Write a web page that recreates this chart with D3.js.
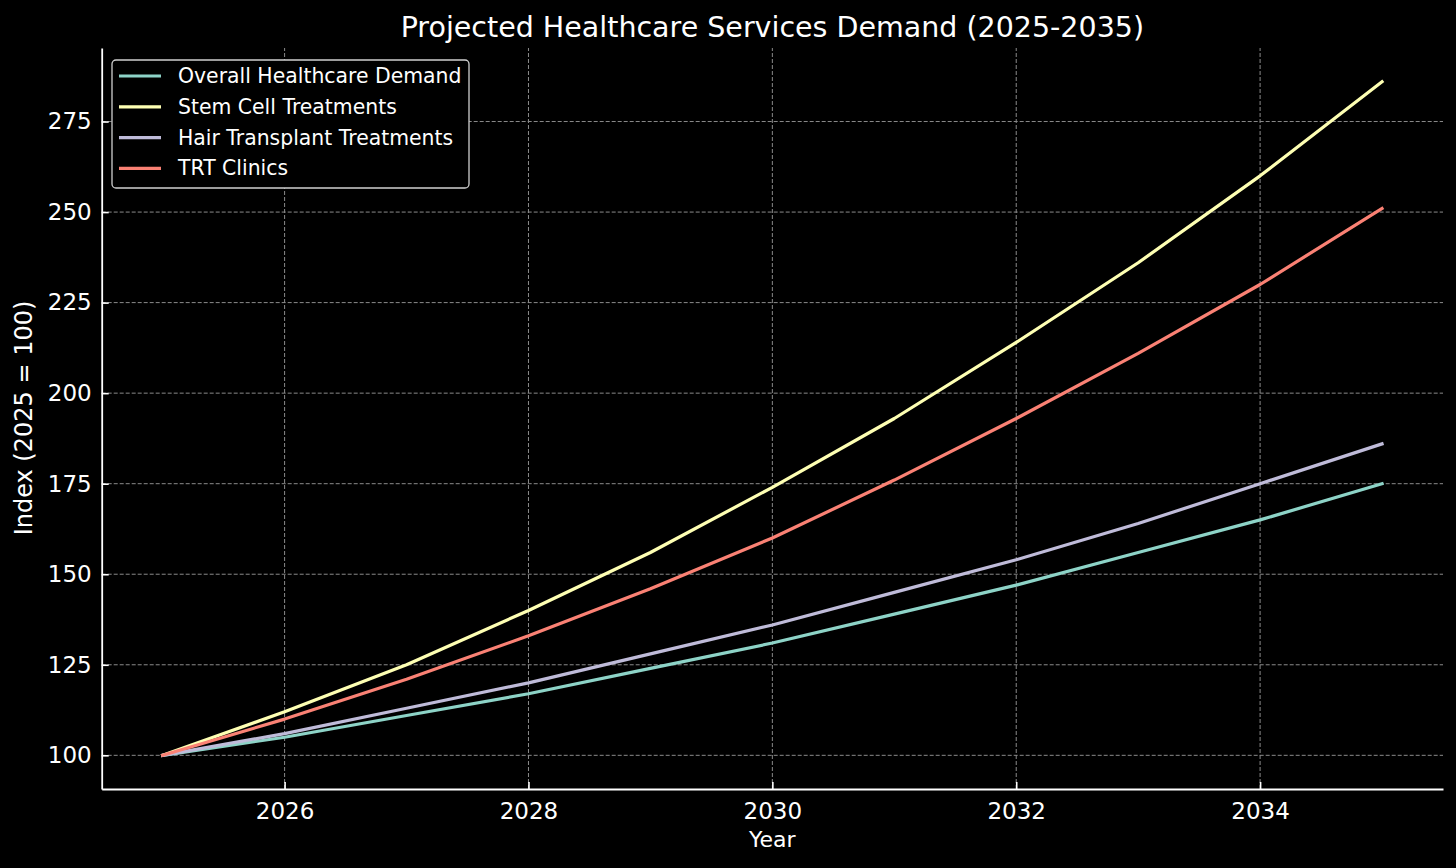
<!DOCTYPE html>
<html>
<head>
<meta charset="utf-8">
<script src="https://cdn.jsdelivr.net/npm/d3@7"></script>
<style>
  html, body { margin: 0; padding: 0; background: #000; }
  svg { display: block; font-family: "DejaVu Sans", sans-serif; }
</style>
</head>
<body>
<svg id="chart" width="1456" height="868"></svg>
<script>
const years = [2025, 2026, 2027, 2028, 2029, 2030, 2031, 2032, 2033, 2034, 2035];
const overallDemand = [100, 105, 111, 117, 124, 131, 139, 147, 156, 165, 175];
const stemCell      = [100, 112, 125, 140, 156, 174, 193, 214, 236, 260, 286];
const hairTransplant= [100, 106, 113, 120, 128, 136, 145, 154, 164, 175, 186];
const trtClinics    = [100, 110, 121, 133, 146, 160, 176, 193, 211, 230, 251];
const seriesNames = ["Overall Healthcare Demand", "Stem Cell Treatments", "Hair Transplant Treatments", "TRT Clinics"];
const seriesColors = ["#8dd3c7", "#feffb3", "#bfbbd9", "#fa8174"];
const xTicks = [2026, 2028, 2030, 2032, 2034];
const yTicks = [100, 125, 150, 175, 200, 225, 250, 275];

const allSeries = [overallDemand, stemCell, hairTransplant, trtClinics];

const svg = d3.select("#chart");
const W = 1456, H = 868;
const m = { left: 101.7, right: 1443, top: 48, bottom: 789 };

svg.append("rect").attr("width", W).attr("height", H).attr("fill", "#000");

const xMin = d3.min(years), xMax = d3.max(years);
const xPad = (xMax - xMin) * 0.05;
const allVals = allSeries.flat();
const yMin = d3.min(allVals), yMax = d3.max(allVals);
const yPad = (yMax - yMin) * 0.05;

const x = d3.scaleLinear().domain([xMin - xPad, xMax + xPad]).range([m.left, m.right]);
const y = d3.scaleLinear().domain([yMin - yPad, yMax + yPad]).range([m.bottom, m.top]);

// grid
const grid = svg.append("g");
grid.selectAll(".vg").data(xTicks).enter().append("line")
  .attr("x1", d => x(d)).attr("x2", d => x(d))
  .attr("y1", m.bottom).attr("y2", m.top)
  .attr("stroke", "#8a8a8a").attr("stroke-width", 1).attr("stroke-dasharray", "4,2");
grid.selectAll(".hg").data(yTicks).enter().append("line")
  .attr("y1", d => y(d)).attr("y2", d => y(d))
  .attr("x1", m.left).attr("x2", m.right)
  .attr("stroke", "#8a8a8a").attr("stroke-width", 1).attr("stroke-dasharray", "4,2");

// lines
const line = d3.line().x((d, i) => x(years[i])).y(d => y(d));
allSeries.forEach((s, k) => {
  svg.append("path").datum(s)
    .attr("d", line)
    .attr("fill", "none")
    .attr("stroke", seriesColors[k])
    .attr("stroke-width", 3.2)
    .attr("stroke-linejoin", "round")
    .attr("stroke-linecap", "square");
});

// axes
const xAxis = d3.axisBottom(x).tickValues(xTicks).tickFormat(d3.format("d")).tickSizeInner(-7).tickSizeOuter(0).tickPadding(14);
const gx = svg.append("g").attr("transform", `translate(0,${m.bottom})`).call(xAxis);
gx.select(".domain").attr("stroke", "#fff").attr("stroke-width", 1.8);
gx.selectAll(".tick line").attr("stroke", "#fff").attr("stroke-width", 1.6);
gx.selectAll(".tick text").attr("fill", "#fff").attr("font-size", 23).attr("font-family", "DejaVu Sans");

const yAxis = d3.axisLeft(y).tickValues(yTicks).tickFormat(d3.format("d")).tickSizeInner(-7).tickSizeOuter(0).tickPadding(10);
const gy = svg.append("g").attr("transform", `translate(${m.left},0)`).call(yAxis);
gy.select(".domain").attr("stroke", "#fff").attr("stroke-width", 1.8);
gy.selectAll(".tick line").attr("stroke", "#fff").attr("stroke-width", 1.6);
gy.selectAll(".tick text").attr("fill", "#fff").attr("font-size", 23).attr("font-family", "DejaVu Sans");

// title & labels
svg.append("text").attr("x", (m.left + m.right) / 2).attr("y", 37)
  .attr("text-anchor", "middle").attr("fill", "#fff").attr("font-size", 28.5)
  .text("Projected Healthcare Services Demand (2025-2035)");
svg.append("text").attr("x", (m.left + m.right) / 2).attr("y", 847)
  .attr("text-anchor", "middle").attr("fill", "#fff").attr("font-size", 22)
  .text("Year");
svg.append("text").attr("transform", `translate(32,${(m.top + m.bottom) / 2 - 0.5}) rotate(-90)`)
  .attr("text-anchor", "middle").attr("fill", "#fff").attr("font-size", 24)
  .text("Index (2025 = 100)");

// legend
const lg = svg.append("g");
lg.append("rect").attr("x", 112).attr("y", 60).attr("width", 357).attr("height", 128)
  .attr("rx", 4).attr("fill", "#000").attr("stroke", "#cfcfcf").attr("stroke-width", 1.3);
seriesNames.forEach((name, k) => {
  const ly = 76 + k * 30.8;
  lg.append("line").attr("x1", 119).attr("x2", 161).attr("y1", ly).attr("y2", ly)
    .attr("stroke", seriesColors[k]).attr("stroke-width", 3.2);
  lg.append("text").attr("x", 178).attr("y", ly + 7).attr("fill", "#fff")
    .attr("font-size", 20.4).text(name);
});
</script>
</body>
</html>
